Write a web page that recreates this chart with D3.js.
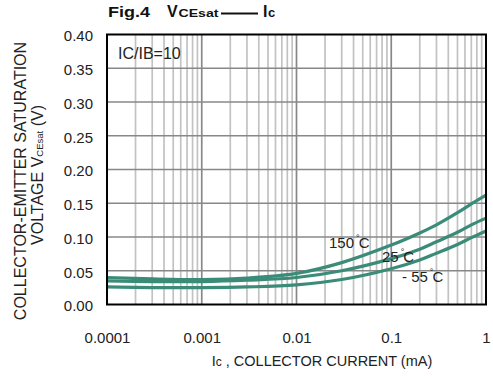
<!DOCTYPE html>
<html>
<head>
<meta charset="utf-8">
<script src="https://cdn.jsdelivr.net/npm/d3@7"></script>
<style>
  html, body { margin: 0; padding: 0; background: #fff; }
  svg { display: block; font-family: "Liberation Sans", Arial, sans-serif; }
</style>
</head>
<body>
<svg id="chart" width="493" height="376"></svg>
<script>
// Collector current sample points (mA)
const currents = [0.0001, 0.0003, 0.001, 0.003, 0.01, 0.03, 0.1, 0.2, 0.3, 0.5, 0.7, 1];
// VCE(sat) in volts for each temperature
const vce150 = [0.040, 0.038, 0.037, 0.039, 0.046, 0.062, 0.088, 0.106, 0.118, 0.136, 0.149, 0.162];
const vce25  = [0.035, 0.034, 0.034, 0.036, 0.040, 0.050, 0.068, 0.082, 0.093, 0.107, 0.118, 0.128];
const vceM55 = [0.026, 0.025, 0.025, 0.026, 0.029, 0.037, 0.053, 0.066, 0.076, 0.089, 0.099, 0.109];
const seriesNames = ["150", "25", "- 55"];
const xTicks = [0.0001, 0.001, 0.01, 0.1, 1];
const xTickLabels = ["0.0001", "0.001", "0.01", "0.1", "1"];
const yTicks = [0, 0.05, 0.10, 0.15, 0.20, 0.25, 0.30, 0.35, 0.40];

const svg = d3.select("#chart");
const m = { left: 107, right: 486, top: 34.5, bottom: 304.5 };

const x = d3.scaleLog().domain([0.0001, 1]).range([m.left, m.right]);
const y = d3.scaleLinear().domain([0, 0.40]).range([m.bottom, m.top]);

const grid = svg.append("g");

// minor vertical grid (2..9 per decade)
const minor = [];
for (let e = -4; e < 0; e++) {
  for (let k = 2; k <= 9; k++) minor.push(k * Math.pow(10, e));
}
grid.selectAll("line.minor").data(minor).join("line")
  .attr("x1", d => x(d)).attr("x2", d => x(d))
  .attr("y1", m.top).attr("y2", m.bottom)
  .attr("stroke", "#c2c2c2").attr("stroke-width", 1.7);

// major vertical grid at decades
grid.selectAll("line.major").data(xTicks.slice(1, -1)).join("line")
  .attr("x1", d => x(d)).attr("x2", d => x(d))
  .attr("y1", m.top).attr("y2", m.bottom)
  .attr("stroke", "#888").attr("stroke-width", 1.7);

// horizontal grid
grid.selectAll("line.h").data(yTicks.slice(1, -1)).join("line")
  .attr("x1", m.left).attr("x2", m.right)
  .attr("y1", d => y(d)).attr("y2", d => y(d))
  .attr("stroke", "#888").attr("stroke-width", 1.7);

// curves
const line = d3.line()
  .x(d => x(d[0])).y(d => y(d[1]))
  .curve(d3.curveCatmullRom.alpha(0.5));

[vce150, vce25, vceM55].forEach(vals => {
  svg.append("path")
    .datum(currents.map((c, i) => [c, vals[i]]))
    .attr("d", line)
    .attr("fill", "none")
    .attr("stroke", "#3a8c78")
    .attr("stroke-width", 3.2);
});

// frame
svg.append("rect")
  .attr("x", m.left).attr("y", m.top)
  .attr("width", m.right - m.left).attr("height", m.bottom - m.top)
  .attr("fill", "none").attr("stroke", "#000").attr("stroke-width", 2);

// axes (labels only)
const xAxis = d3.axisBottom(x).tickValues(xTicks)
  .tickFormat((d, i) => xTickLabels[i]).tickSize(0).tickPadding(0);
const gx = svg.append("g").attr("transform", `translate(0,${m.bottom})`).call(xAxis);
gx.select(".domain").remove();
gx.selectAll("text").attr("y", 38.5).attr("dy", 0)
  .attr("font-size", 15).attr("fill", "#222")
  .attr("font-family", "Liberation Sans, Arial, sans-serif");

const yAxis = d3.axisLeft(y).tickValues(yTicks)
  .tickFormat(d3.format(".2f")).tickSize(0).tickPadding(0);
const gy = svg.append("g").attr("transform", `translate(${m.left},0)`).call(yAxis);
gy.select(".domain").remove();
gy.selectAll("text").attr("x", -14).attr("dy", "0.42em")
  .attr("font-size", 15).attr("fill", "#222")
  .attr("font-family", "Liberation Sans, Arial, sans-serif");

// title
svg.append("text").attr("x", 108).attr("y", 17)
  .attr("font-weight", "bold").attr("fill", "#111").attr("font-size", 15.5)
  .attr("textLength", 42).attr("lengthAdjust", "spacingAndGlyphs")
  .text("Fig.4");
svg.append("text").attr("x", 167).attr("y", 17)
  .attr("font-weight", "bold").attr("fill", "#111").attr("font-size", 16)
  .text("V");
svg.append("text").attr("x", 178.5).attr("y", 17)
  .attr("font-weight", "bold").attr("fill", "#111").attr("font-size", 10)
  .attr("textLength", 40).attr("lengthAdjust", "spacingAndGlyphs")
  .text("CEsat");
svg.append("line").attr("x1", 221).attr("x2", 258).attr("y1", 13.5).attr("y2", 13.5)
  .attr("stroke", "#111").attr("stroke-width", 2);
const t2 = svg.append("text").attr("x", 263).attr("y", 17)
  .attr("font-weight", "bold").attr("fill", "#111");
t2.append("tspan").attr("font-size", 16).text("I");
t2.append("tspan").attr("font-size", 13).attr("dx", 0.5).text("c");

// condition note
svg.append("text").attr("x", 118).attr("y", 59)
  .attr("font-size", 16).attr("fill", "#222").text("IC/IB=10");

// curve labels
const lbl = [
  { x: 329, y: 248 },
  { x: 382, y: 262 },
  { x: 402, y: 282 }
];
lbl.forEach((d, i) => {
  const tx = svg.append("text").attr("x", d.x).attr("y", d.y)
    .attr("font-size", 15).attr("fill", "#222");
  tx.append("tspan").text(seriesNames[i]);
  tx.append("tspan").attr("font-size", 9).attr("dy", -7).attr("dx", 2).text("°");
  tx.append("tspan").attr("dy", 7).attr("dx", -1).text("C");
});

// x axis title
const xt = svg.append("text").attr("x", 322).attr("y", 366)
  .attr("text-anchor", "middle").attr("font-size", 14.5).attr("fill", "#222");
xt.append("tspan").text("I");
xt.append("tspan").attr("font-size", 12).text("c");
xt.append("tspan").text(" , COLLECTOR CURRENT (mA)");

// y axis title (two lines)
const yt = svg.append("g").attr("transform", "rotate(-90)");
yt.append("text").attr("x", -181).attr("y", 26)
  .attr("text-anchor", "middle").attr("font-size", 16).attr("fill", "#222")
  .text("COLLECTOR-EMITTER SATURATION");
const yt2 = yt.append("text").attr("x", -175).attr("y", 43)
  .attr("text-anchor", "middle").attr("font-size", 16).attr("fill", "#222");
yt2.append("tspan").text("VOLTAGE V");
yt2.append("tspan").attr("font-size", 9.5).text("CEsat");
yt2.append("tspan").text(" (V)");
</script>
</body>
</html>
